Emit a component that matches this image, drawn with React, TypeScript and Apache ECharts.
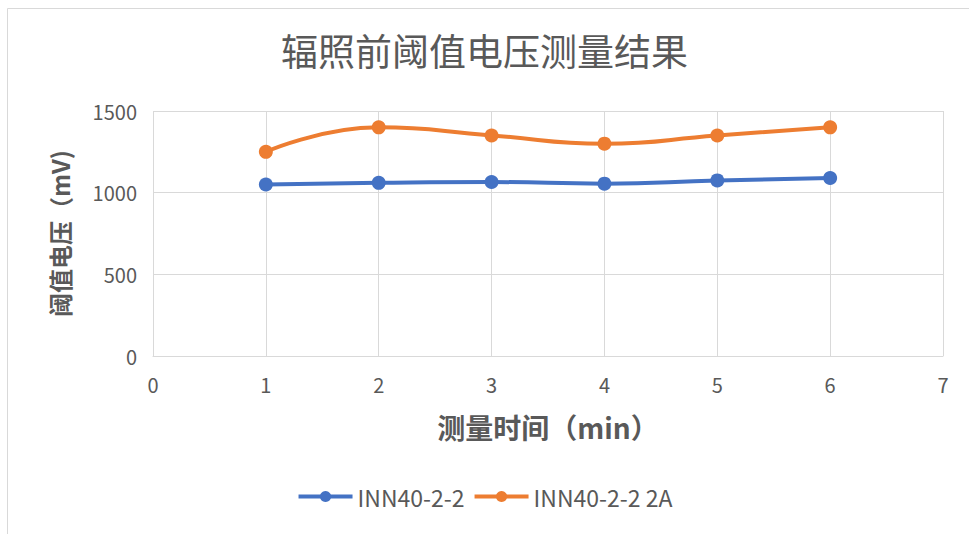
import React, { useEffect, useRef } from "react";
import * as echarts from "echarts";

const minutes = [1, 2, 3, 4, 5, 6];
const seriesNames = ["INN40-2-2", "INN40-2-2 2A"];
const inn40_2_2 = [1050, 1060, 1065, 1055, 1075, 1090];
const inn40_2_2_2A = [1250, 1400, 1350, 1300, 1350, 1400];
const titleText = "辐照前阈值电压测量结果";
const xName = "测量时间（min）";
const yName = "阈值电压（mV)";

const FONT = "'Noto Sans CJK SC', 'Noto Sans', sans-serif";
const TEXT = "#595959";

export default function App() {
  const ref = useRef<HTMLDivElement>(null);

  useEffect(() => {
    if (!ref.current) return;
    const chart = echarts.init(ref.current, undefined, { renderer: "svg" });
    const pairs = (ys: number[]) => minutes.map((m, i) => [m, ys[i]]);
    chart.setOption({
      animation: false,
      backgroundColor: "#ffffff",
      title: {
        text: titleText,
        left: "center",
        top: 26,
        textStyle: { fontFamily: FONT, fontSize: 37, fontWeight: "normal", color: TEXT },
      },
      graphic: [
        {
          type: "rect",
          shape: { x: 7.5, y: 8.5, width: 1000, height: 600 },
          style: { fill: "none", stroke: "#d9d9d9", lineWidth: 1 },
          silent: true,
        },
      ],
      legend: {
        bottom: 21,
        left: "center",
        itemWidth: 54,
        itemHeight: 14,
        itemGap: 8,
        lineStyle: { width: 4 },
        textStyle: { fontFamily: FONT, fontSize: 23, color: TEXT },
        data: seriesNames,
      },
      grid: { left: 153, right: 26, top: 111, bottom: 178 },
      xAxis: {
        type: "value",
        min: 0,
        max: 7,
        interval: 1,
        name: xName,
        nameLocation: "middle",
        nameGap: 57,
        nameTextStyle: { fontFamily: FONT, fontSize: 28, fontWeight: "bold", color: TEXT },
        axisLine: { show: true, lineStyle: { color: "#d9d9d9", width: 1 } },
        axisTick: { show: false },
        axisLabel: { fontFamily: FONT, fontSize: 20, color: TEXT, margin: 18 },
        splitLine: { show: true, lineStyle: { color: "#d9d9d9", width: 1 } },
      },
      yAxis: {
        type: "value",
        min: 0,
        max: 1500,
        interval: 500,
        name: yName,
        nameLocation: "middle",
        nameGap: 82,
        nameTextStyle: { fontFamily: FONT, fontSize: 24, fontWeight: "bold", color: TEXT },
        axisLine: { show: false },
        axisTick: { show: false },
        axisLabel: {
          fontFamily: FONT,
          fontSize: 20,
          color: TEXT,
          margin: 16,
          formatter: (v: number) => String(v),
        },
        splitLine: { show: true, lineStyle: { color: "#d9d9d9", width: 1 } },
      },
      series: [
        {
          name: seriesNames[0],
          type: "line",
          smooth: true,
          data: pairs(inn40_2_2),
          symbol: "circle",
          symbolSize: 14,
          itemStyle: { color: "#4472C4" },
          lineStyle: { color: "#4472C4", width: 4 },
        },
        {
          name: seriesNames[1],
          type: "line",
          smooth: true,
          data: pairs(inn40_2_2_2A),
          symbol: "circle",
          symbolSize: 14,
          itemStyle: { color: "#ED7D31" },
          lineStyle: { color: "#ED7D31", width: 4 },
        },
      ],
    });
    return () => chart.dispose();
  }, []);

  return (
    <div
      ref={ref}
      style={{ position: "fixed", left: 0, top: 0, width: 969, height: 534 }}
    />
  );
}
